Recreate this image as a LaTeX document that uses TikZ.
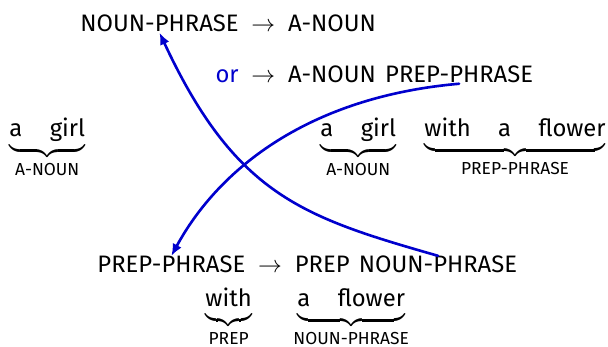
\documentclass[tikz,border=0pt]{standalone}
\usepackage{amsmath}
\usepackage{fontspec}
\setmainfont{Fira Sans}
\usetikzlibrary{arrows.meta,positioning}
\DeclareMathSizes{10}{10}{7.3}{5}
\definecolor{azul}{RGB}{0,0,205}
\newcommand{\gap}{\hspace{1.15em}}
\newcommand{\llave}[2]{$\underbrace{\text{#1}\vphantom{g}}_{\text{#2}}$}

\begin{document}
\begin{tikzpicture}[x=0.42pt,y=0.42pt,>={Latex[length=5pt,width=4.2pt]},line cap=round,
  word/.style={inner sep=0pt,anchor=base west},
  link/.style={->,azul,line width=1.1pt}]
  \useasboundingbox (0,0) rectangle (608,347);
  % regla de NOUN-PHRASE
  \node[word] (np1) at (80,315) {NOUN-PHRASE};
  \node[word,base right=5pt of np1] (to1) {$\rightarrow$};
  \node[word,base right=5pt of to1] (an1) {A-NOUN};
  \node[word,anchor=base] (to2) at (to1.base |- 0,264) {$\rightarrow$};
  \node[word,base left=5pt of to2,azul] (or) {or};
  \node[word,base right=5pt of to2] (an2) {A-NOUN};
  \node[word,base right=3.5pt of an2] (pp1) {PREP-PHRASE};
  % ejemplos con llaves
  \node[word] (g1) at (9,210) {\llave{a\gap girl}{A-NOUN}};
  \node[word] (g2) at (320,210) {\llave{a\gap girl}{A-NOUN}};
  \node[word] (g3) at (424,210) {\llave{with\gap a\gap flower}{PREP-PHRASE}};
  % regla de PREP-PHRASE
  \node[word] (pp2) at (97,74) {PREP-PHRASE};
  \node[word,base right=5pt of pp2] (to3) {$\rightarrow$};
  \node[word,base right=5pt of to3] (pr) {PREP};
  \node[word,base right=3.5pt of pr] (np2) {NOUN-PHRASE};
  \node[word] (g4) at (205,40) {\llave{with}{PREP}};
  \node[word] (g5) at (293,40) {\llave{a\gap flower}{NOUN-PHRASE}};
  % flechas
  \draw[link] (np2.north) .. controls +(164:140) and +(-65:180) .. (np1.south);
  \draw[link] (pp1.south) .. controls +(185:150) and +(61.5:100) .. (pp2.north);
\end{tikzpicture}
\end{document}
